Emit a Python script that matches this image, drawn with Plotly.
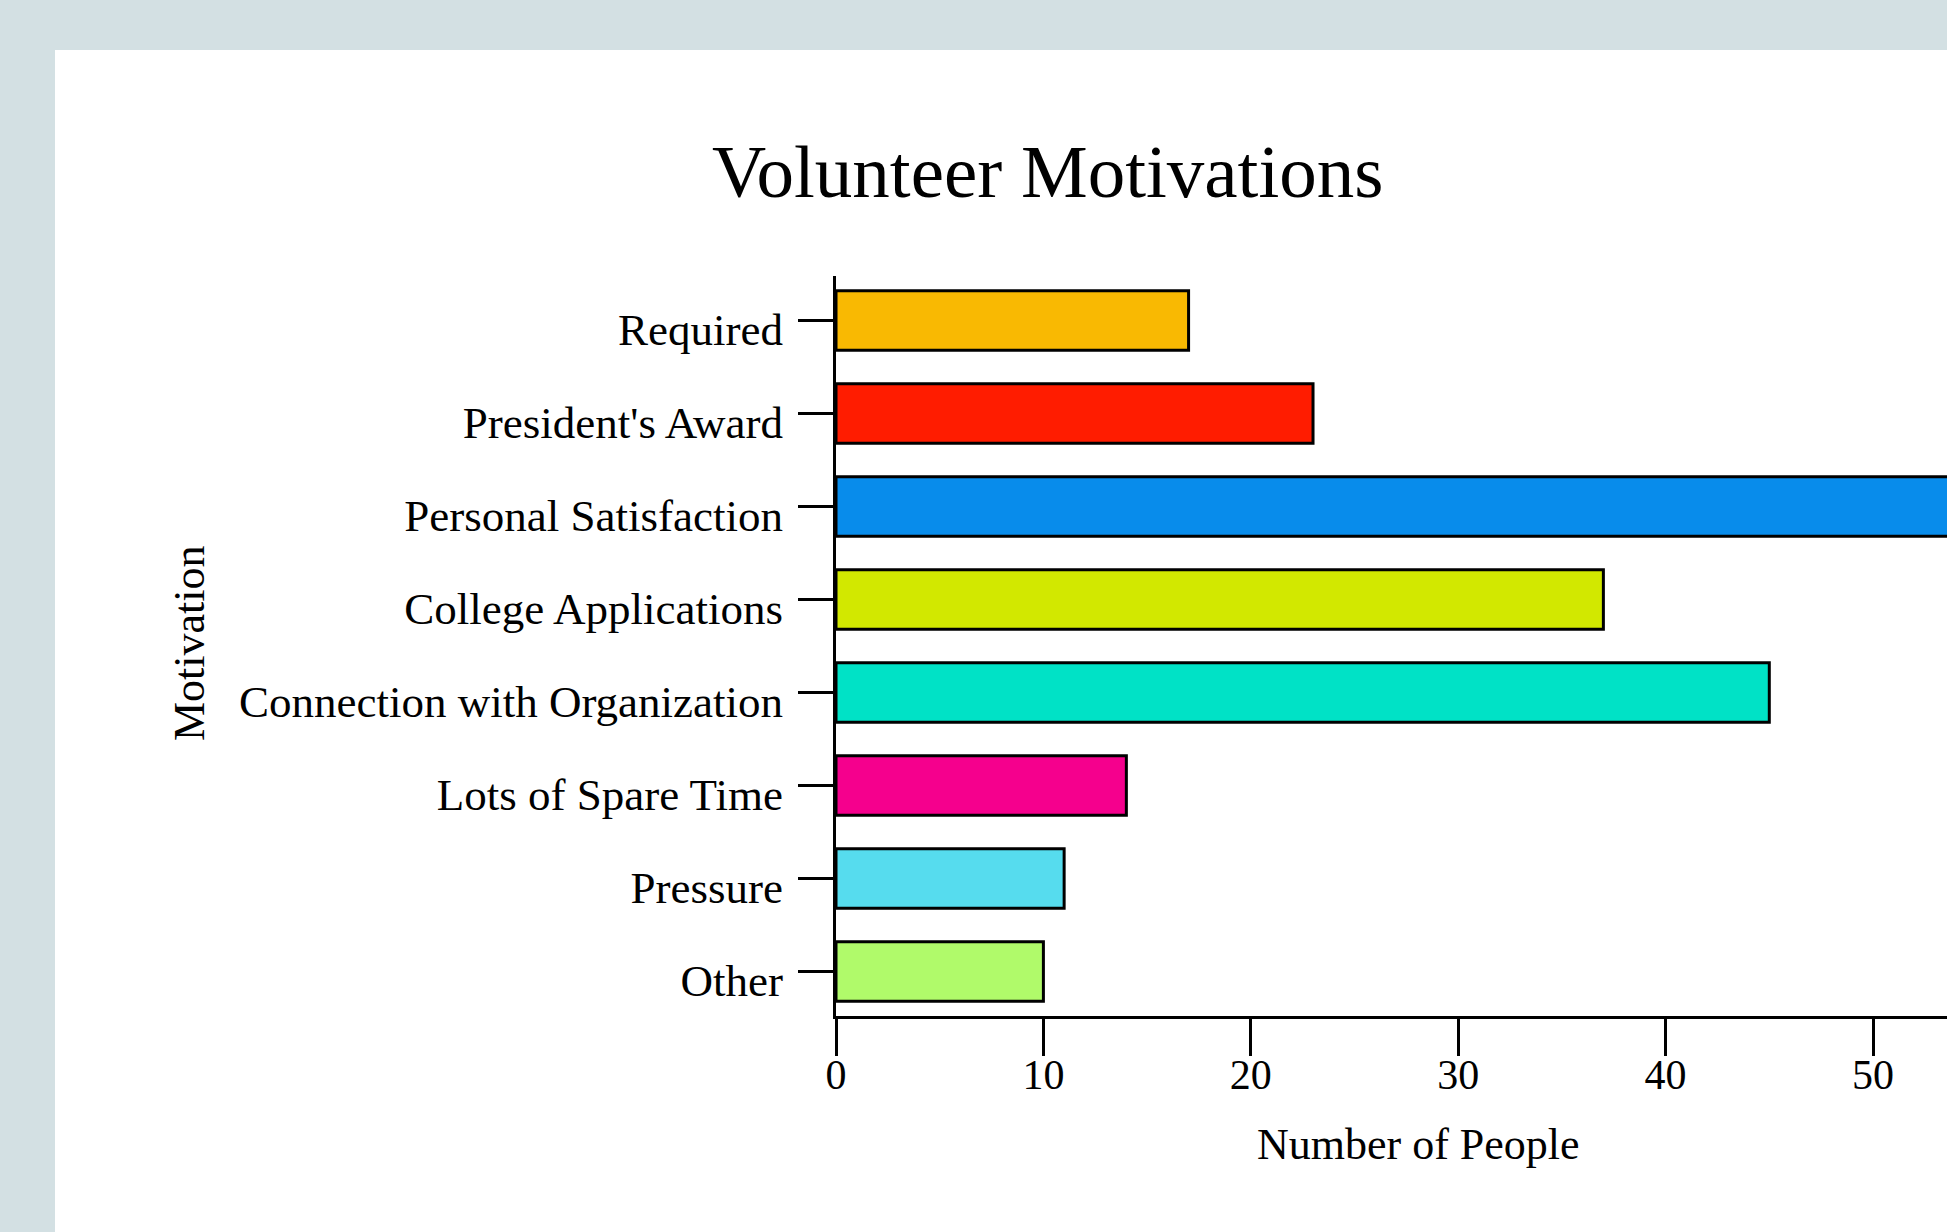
import plotly.graph_objects as go

# Survey results: why people volunteer
motivations = [
    "Required",
    "President's Award",
    "Personal Satisfaction",
    "College Applications",
    "Connection with Organization",
    "Lots of Spare Time",
    "Pressure",
    "Other",
]
people = [17, 23, 56, 37, 45, 14, 11, 10]
bar_colors = [
    "#f9b902",
    "#ff1c00",
    "#088ceb",
    "#d2e800",
    "#00e2c6",
    "#f5008d",
    "#56dcee",
    "#b0fa6a",
]
x_ticks = [0, 10, 20, 30, 40, 50]

W, H = 1947, 1232
# plot area in page pixels
L, R, T, B = 836, 1947, 276, 1016
PX_PER_UNIT = 20.74

SERIF = "Liberation Serif, Times New Roman, serif"


def fx(px):
    return (px - L) / (R - L)


def fy(py):
    return (B - py) / (B - T)


fig = go.Figure(
    go.Bar(
        x=people,
        y=motivations,
        orientation="h",
        marker=dict(color=bar_colors, line=dict(color="black", width=3)),
        hoverinfo="x+y",
    )
)

fig.update_layout(
    width=W,
    height=H,
    margin=dict(l=L, r=W - R, t=T, b=H - B, pad=0),
    paper_bgcolor="white",
    plot_bgcolor="white",
    showlegend=False,
    bargap=0.36,
    font=dict(family=SERIF, size=45, color="black"),
)

fig.update_xaxes(
    range=[0, (R - L) / PX_PER_UNIT],
    tickmode="array",
    tickvals=x_ticks,
    ticktext=[str(v) for v in x_ticks],
    ticks="outside",
    ticklen=37,
    tickwidth=3,
    tickcolor="black",
    showline=True,
    linewidth=3,
    linecolor="black",
    showgrid=False,
    zeroline=False,
    tickfont=dict(family=SERIF, size=42, color="black"),
    ticklabelstandoff=-17,
)

fig.update_yaxes(
    type="category",
    categoryorder="array",
    categoryarray=motivations,
    range=[len(motivations) - 0.52, -0.48],
    ticks="outside",
    ticklen=35,
    tickwidth=3,
    tickcolor="black",
    showline=True,
    linewidth=3,
    linecolor="black",
    showgrid=False,
    zeroline=False,
    tickfont=dict(family=SERIF, size=45, color="black"),
    ticklabelstandoff=6,
    ticklabelshift=-9,
)

# page frame: grey bands along the top and left edges
fig.add_shape(type="rect", xref="paper", yref="paper", layer="below",
              x0=fx(0), x1=fx(W), y0=fy(0), y1=fy(50),
              fillcolor="#d3e0e3", line=dict(width=0))
fig.add_shape(type="rect", xref="paper", yref="paper", layer="below",
              x0=fx(0), x1=fx(55), y0=fy(0), y1=fy(H),
              fillcolor="#d3e0e3", line=dict(width=0))

fig.add_annotation(text="Volunteer Motivations", xref="paper", yref="paper",
                   x=fx(1047), y=fy(171), showarrow=False,
                   xanchor="center", yanchor="middle",
                   font=dict(family=SERIF, size=75, color="black"))
fig.add_annotation(text="Number of People", xref="paper", yref="paper",
                   x=fx(1418), y=fy(1144), showarrow=False,
                   xanchor="center", yanchor="middle",
                   font=dict(family=SERIF, size=44, color="black"))
fig.add_annotation(text="Motivation", xref="paper", yref="paper",
                   x=fx(189), y=fy(643), showarrow=False, textangle=-90,
                   xanchor="center", yanchor="middle",
                   font=dict(family=SERIF, size=44, color="black"))

fig.write_html("out.html")
